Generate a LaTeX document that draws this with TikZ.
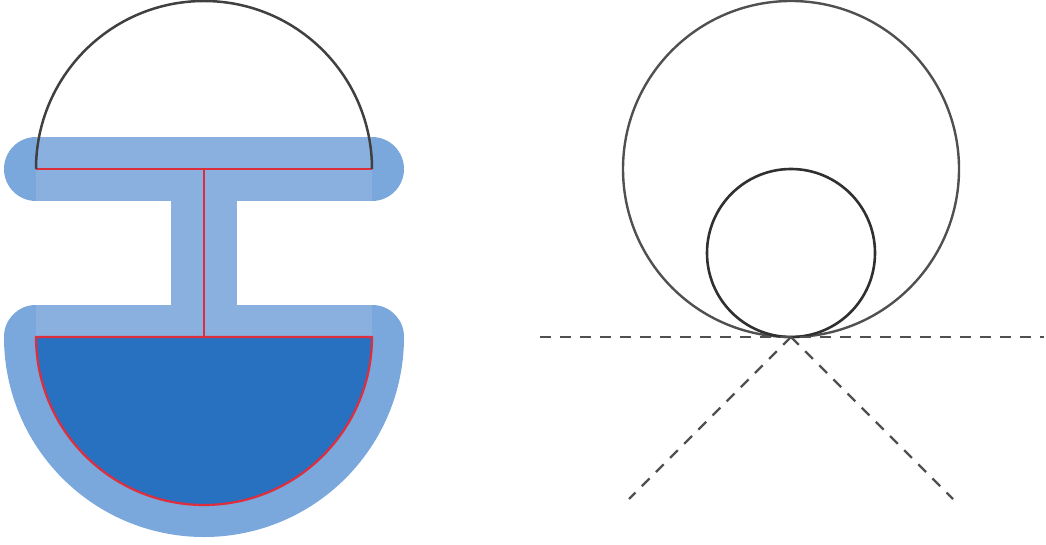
\documentclass[tikz,border=0pt]{standalone}
\definecolor{hlA}{RGB}{138,176,224}
\definecolor{hlB}{RGB}{122,168,220}
\definecolor{deep}{RGB}{40,112,192}
\definecolor{redl}{RGB}{222,46,62}
\definecolor{arcg}{RGB}{64,64,64}
\definecolor{circg}{RGB}{80,80,80}
\definecolor{smallg}{RGB}{48,48,48}
\tikzset{
  redline/.style={draw=redl,line width=2.2pt},
  blackarc/.style={draw=arcg,line width=2.5pt},
  dashline/.style={draw=circg,line width=2.3pt,dash pattern=on 11pt off 9pt},
}
\begin{document}
\begin{tikzpicture}[x=1pt,y=-1pt]
\useasboundingbox (0,0) rectangle (1046,545);
% key points
\coordinate (TL) at (36,169);
\coordinate (TR) at (372,169);
\coordinate (TC) at (204,169);
\coordinate (BL) at (36,337);
\coordinate (BR) at (372,337);
\coordinate (BC) at (204,337);
% lower highlight
\draw[hlB,line width=64pt,line join=round] (BL) -- (BR) arc[start angle=0,end angle=180,radius=168] -- cycle;
\fill[hlA] (36,305) rectangle (372,337);
% top bar highlight
\fill[hlB] (TL) circle[radius=32];
\fill[hlB] (TR) circle[radius=32];
\fill[hlA] (36,137) rectangle (372,201);
% vertical bar
\fill[hlA] (171,200) rectangle (237,306);
% dark fill
\fill[deep] (BL) -- (BR) arc[start angle=0,end angle=180,radius=168] -- cycle;
% red lines
\draw[redline,line join=round] (BL) -- (BR) arc[start angle=0,end angle=180,radius=168] -- cycle;
\draw[redline] (TL) -- (TR);
\draw[redline] (TC) -- (BC);
% upper arc
\draw[blackarc] (TR) arc[start angle=0,end angle=-180,radius=168];
% right figure
\coordinate (O) at (791,169);
\coordinate (o) at (791,253);
\coordinate (T) at (791,337);
\coordinate (HL) at (540,337);
\coordinate (HR) at (1044,337);
\coordinate (DL) at (629,499);
\coordinate (DR) at (953,499);
\draw[circg,line width=2.4pt] (O) circle[radius=168];
\draw[smallg,line width=2.6pt] (o) circle[radius=84];
\draw[dashline] (HL) -- (HR);
\draw[dashline] (T) -- (DL);
\draw[dashline] (T) -- (DR);
\end{tikzpicture}
\end{document}
